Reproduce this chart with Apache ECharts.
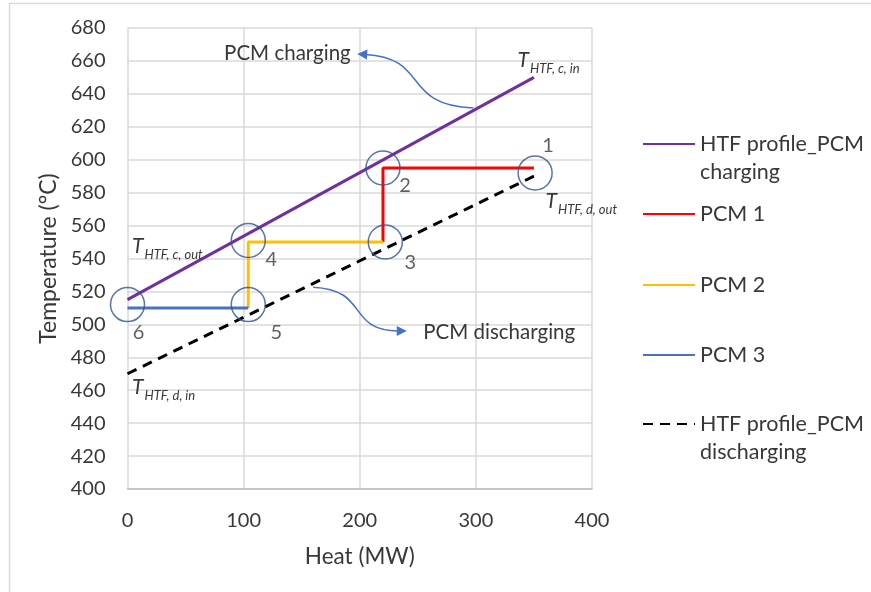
<!DOCTYPE html>
<html>
<head>
<meta charset="utf-8">
<script src="https://cdn.jsdelivr.net/npm/echarts@6/dist/echarts.min.js"></script>
<style>
  html, body { margin: 0; padding: 0; background: #fff; }
  #chart { width: 871px; height: 592px; }
</style>
</head>
<body>
<div id="chart"></div>
<script>
// Axis ticks
const xTicks = [0, 100, 200, 300, 400];
const yTicks = [400, 420, 440, 460, 480, 500, 520, 540, 560, 580, 600, 620, 640, 660, 680];

// HTF temperature profiles (heat in MW, temperature in °C)
const chargingHeat = [0, 350];
const chargingTemp = [515, 650];
const dischargingHeat = [0, 350];
const dischargingTemp = [470, 590];

// PCM stages
const pcm1Heat = [350, 220, 220];
const pcm1Temp = [595, 595, 550];
const pcm2Heat = [220, 104, 104];
const pcm2Temp = [550, 550, 510];
const pcm3Heat = [104, 0];
const pcm3Temp = [510, 510];

// Numbered state points (circled)
const stateHeat = [351, 220, 222, 104, 104, 0];
const stateTemp = [592, 595, 550, 551, 512, 512];
const stateNames = ['1', '2', '3', '4', '5', '6'];

const FONT = 'Lato, "Open Sans", sans-serif';
const TXT = '#383838';
const pairs = (xs, ys) => xs.map((x, i) => [x, ys[i]]);

const chart = echarts.init(document.getElementById('chart'), null, { renderer: 'canvas' });

const stateOffsets = [[13, -27], [22, 18], [25, 21], [23, 19], [28, 28], [11, 28]];

const legendTops = [144, 214, 285, 355, 424];
const legendNames = ['HTF profile_PCM charging', 'PCM 1', 'PCM 2', 'PCM 3', 'HTF profile_PCM discharging'];
// two-line entries get a blank first line so the icon sits beside the first text line
const twoLine = {
  'HTF profile_PCM charging': ' \nHTF profile_PCM\ncharging',
  'HTF profile_PCM discharging': ' \nHTF profile_PCM\ndischarging'
};

const legends = legendNames.map((name, i) => {
  const multi = !!twoLine[name];
  const lh = 28.5;
  return {
    data: [name],
    orient: 'vertical',
    left: 642,
    top: legendTops[i] - (multi ? lh * 1.5 : lh / 2),
    itemWidth: 52,
    itemHeight: 14,
    itemGap: 0,
    padding: 0,
    selectedMode: false,
    itemStyle: { opacity: 0 },
    formatter: n => twoLine[n] || n,
    textStyle: { fontFamily: FONT, fontSize: 21.5, color: TXT, lineHeight: lh }
  };
});

const lineSeries = (name, xs, ys, color, type) => ({
  name, type: 'line', data: pairs(xs, ys), symbol: 'none',
  lineStyle: { color, width: 3, type: type || 'solid', cap: 'butt' },
  itemStyle: { color }, z: 3, animation: false
});

chart.setOption({
  animation: false,
  backgroundColor: '#fff',
  grid: { left: 127.5, right: 279, top: 28, bottom: 103 },
  legend: legends,
  xAxis: {
    type: 'value', min: xTicks[0], max: xTicks[xTicks.length - 1], interval: 100,
    name: 'Heat (MW)', nameLocation: 'middle', nameGap: 56,
    nameTextStyle: { fontFamily: FONT, fontSize: 22.5, color: TXT },
    axisLine: { show: true, lineStyle: { color: '#bfbfbf', width: 1.5 } },
    axisTick: { show: false },
    axisLabel: { fontFamily: FONT, fontSize: 20, color: TXT, margin: 22 },
    splitLine: { show: true, lineStyle: { color: '#d9d9d9', width: 1.5 } }
  },
  yAxis: {
    type: 'value', min: yTicks[0], max: yTicks[yTicks.length - 1], interval: 20,
    name: 'Temperature (°C)', nameLocation: 'middle', nameGap: 58,
    nameTextStyle: { fontFamily: FONT, fontSize: 23, color: TXT },
    axisLine: { show: false },
    axisTick: { show: false },
    axisLabel: { fontFamily: FONT, fontSize: 20, color: TXT, margin: 22 },
    splitLine: { show: true, lineStyle: { color: '#d9d9d9', width: 1.5 } }
  },
  series: [
    lineSeries('HTF profile_PCM charging', chargingHeat, chargingTemp, '#7030A0'),
    lineSeries('PCM 1', pcm1Heat, pcm1Temp, '#FF0000'),
    lineSeries('PCM 2', pcm2Heat, pcm2Temp, '#FFC000'),
    lineSeries('PCM 3', pcm3Heat, pcm3Temp, '#4472C4'),
    lineSeries('HTF profile_PCM discharging', dischargingHeat, dischargingTemp, '#000000', [10, 7]),
    {
      name: 'states', type: 'scatter', z: 5, silent: true,
      symbol: 'circle', symbolSize: 34,
      itemStyle: { color: 'rgba(0,0,0,0)', borderColor: '#2F528F', borderWidth: 1.5 },
      data: stateHeat.map((h, i) => ({
        value: [h, stateTemp[i]],
        label: {
          show: true, position: 'inside', offset: stateOffsets[i],
          formatter: stateNames[i], fontFamily: FONT, fontSize: 20, color: TXT
        }
      }))
    }
  ]
});

// Annotations anchored in data coordinates
const toPx = p => chart.convertToPixel({ gridIndex: 0 }, p);

const tLabels = [
  { at: [335.8, 666.6], sub: 'HTF, c, in' },
  { at: [359.9, 581.0], sub: 'HTF, d, out' },
  { at: [3.9, 553.6], sub: 'HTF, c, out' },
  { at: [3.9, 468.0], sub: 'HTF, d, in' }
];

const captions = [
  { at: [83.2, 664.8], text: 'PCM charging' },
  { at: [254.7, 495.3], text: 'PCM discharging' }
];

const arrows = [
  { p0: [297.8, 631.4], c1: [234.9, 633.2], c2: [260.8, 661.8], p3: [197.8, 664.2] },
  { p0: [159.9, 522.6], c1: [209.1, 520.8], c2: [187.5, 496.5], p3: [240.5, 495.9] }
];

const graphics = [];

// light frame around the figure
graphics.push({
  type: 'rect', silent: true, z: -1,
  shape: { x: 9.5, y: 3.5, width: 900, height: 700 },
  style: { fill: 'none', stroke: '#d9d9d9', lineWidth: 1.5 }
});

tLabels.forEach(t => {
  const [x, y] = toPx(t.at);
  graphics.push({
    type: 'text', silent: true, z: 10,
    style: {
      x, y, text: '{t|T}{s|' + t.sub + '}', verticalAlign: 'top', align: 'left',
      rich: {
        t: { fontFamily: FONT, fontSize: 21, fontStyle: 'italic', fill: TXT, lineHeight: 20, verticalAlign: 'top' },
        s: { fontFamily: FONT, fontSize: 13, fontStyle: 'italic', fill: TXT, lineHeight: 12, padding: [12, 0, 0, 1], verticalAlign: 'top' }
      }
    }
  });
});

captions.forEach(c => {
  const [x, y] = toPx(c.at);
  graphics.push({
    type: 'text', silent: true, z: 10,
    style: { x, y, text: c.text, fontFamily: FONT, fontSize: 20.5, fill: TXT, verticalAlign: 'middle', align: 'left' }
  });
});

arrows.forEach(a => {
  const p0 = toPx(a.p0), c1 = toPx(a.c1), c2 = toPx(a.c2), tip = toPx(a.p3);
  const dx = tip[0] - c2[0], dy = tip[1] - c2[1];
  const len = Math.hypot(dx, dy), ux = dx / len, uy = dy / len;
  const headL = 10, headW = 5;
  const bx = tip[0] - ux * headL, by = tip[1] - uy * headL;
  graphics.push({
    type: 'bezierCurve', silent: true, z: 10,
    shape: { x1: p0[0], y1: p0[1], cpx1: c1[0], cpy1: c1[1], cpx2: c2[0], cpy2: c2[1], x2: bx + ux * 2, y2: by + uy * 2 },
    style: { stroke: '#4472C4', lineWidth: 1.5, fill: 'none' }
  });
  graphics.push({
    type: 'polygon', silent: true, z: 10,
    shape: { points: [tip, [bx - uy * headW, by + ux * headW], [bx + uy * headW, by - ux * headW]] },
    style: { fill: '#4472C4' }
  });
});

chart.setOption({ graphic: graphics });
</script>
</body>
</html>
